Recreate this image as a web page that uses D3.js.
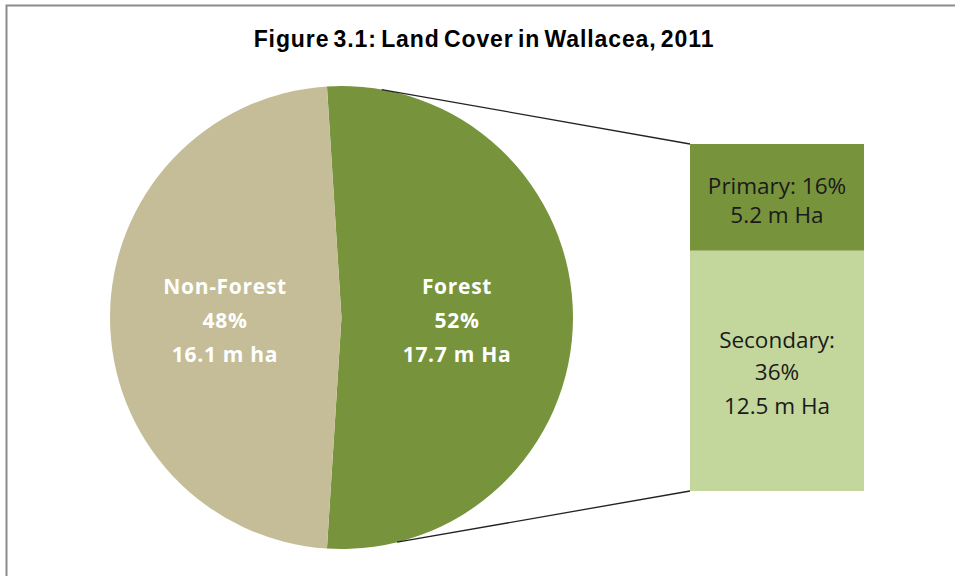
<!DOCTYPE html>
<html><head><meta charset="utf-8">
<script src="https://cdn.jsdelivr.net/npm/d3@7"></script>
<style>html,body{margin:0;padding:0;background:#fff;}svg{display:block;}</style>
</head><body>
<svg id="chart" width="955" height="576"></svg>
<script>
const title = "Figure 3.1: Land Cover in Wallacea, 2011";
const pieCategories = ["Forest", "Non-Forest"];
const piePercents = [52, 48];
const pieAreas = ["17.7 m Ha", "16.1 m ha"];
const barCategories = ["Primary", "Secondary"];
const barPercents = [16, 36];
const barAreas = ["5.2 m Ha", "12.5 m Ha"];

const pieColors = {"Forest": "#77933C", "Non-Forest": "#C4BD97"};
const barColors = {"Primary": "#77933C", "Secondary": "#C3D69B"};

const svg = d3.select("#chart");
// chart border
svg.append("rect").attr("x", 6.5).attr("y", 5.5).attr("width", 1000).attr("height", 1000)
  .attr("fill", "#fff").attr("stroke", "#8c8c8c").attr("stroke-width", 2);

svg.append("text").attr("x", 484).attr("y", 47).attr("text-anchor", "middle")
  .attr("font-family", "Liberation Sans, Arial, sans-serif").attr("font-weight", "bold")
  .attr("font-size", 23).attr("letter-spacing", 0.9).attr("word-spacing", -3).attr("fill", "#000").text(title);

const cx = 341.5, cy = 317.5, R = 231.5;
const forestFrac = piePercents[0] / d3.sum(piePercents);
const start = -(forestFrac * 2 * Math.PI - Math.PI) / 2;
const pie = d3.pie().sort(null).value(d => d.v).startAngle(start).endAngle(start + 2 * Math.PI);
const pieData = pie(pieCategories.map((c, i) => ({c, v: piePercents[i], a: pieAreas[i]})));
const arc = d3.arc().innerRadius(0).outerRadius(R);
const g = svg.append("g").attr("transform", `translate(${cx},${cy})`);
g.selectAll("path").data(pieData).join("path").attr("d", arc).attr("fill", d => pieColors[d.data.c]);

// pie labels
const labelPos = {"Forest": [457 - cx, 0], "Non-Forest": [225 - cx, 0]};
pieData.forEach(d => {
  const [lx] = labelPos[d.data.c];
  const lines = [d.data.c, d.data.v + "%", d.data.a];
  const t = g.append("text").attr("text-anchor", "middle")
    .attr("font-family", "'Open Sans', Lato, sans-serif").attr("font-weight", "bold")
    .attr("font-size", 21).attr("letter-spacing", 0.7).attr("fill", "#fff");
  lines.forEach((l, i) => t.append("tspan").attr("x", lx).attr("y", -24 + i * 34).text(l));
});

// bar
const barX = 690, barW = 174;
const y = d3.scaleLinear().domain([0, d3.sum(barPercents)]).range([144, 491]);
let acc = 0;
const barData = barCategories.map((c, i) => { const d = {c, v: barPercents[i], a: barAreas[i], y0: acc}; acc += barPercents[i]; d.y1 = acc; return d; });
svg.selectAll("rect.bar").data(barData).join("rect").attr("class", "bar")
  .attr("x", barX).attr("width", barW).attr("y", d => y(d.y0)).attr("height", d => y(d.y1) - y(d.y0))
  .attr("fill", d => barColors[d.c]);

// bar labels
const barLines = {"Primary": [[barCategories[0] + ": " + barPercents[0] + "%", 194], [barAreas[0], 223]],
  "Secondary": [[barCategories[1] + ":", 348], [barPercents[1] + "%", 380], [barAreas[1], 414]]};
barData.forEach(d => {
  barLines[d.c].forEach(([txt, ty]) => {
    svg.append("text").attr("x", barX + barW / 2).attr("y", ty).attr("text-anchor", "middle")
      .attr("font-family", "'Open Sans', Lato, sans-serif").attr("font-size", 22.5).attr("fill", "#1a1a1a").text(txt);
  });
});

// connector lines
const topAng = 10 * Math.PI / 180, botAng = 166.1 * Math.PI / 180;
const pt = a => [cx + R * Math.sin(a), cy - R * Math.cos(a)];
const [tx, ty] = pt(topAng), [bx, by] = pt(botAng);
svg.append("line").attr("x1", tx).attr("y1", ty).attr("x2", barX).attr("y2", y(0))
  .attr("stroke", "#222").attr("stroke-width", 1.3);
svg.append("line").attr("x1", bx).attr("y1", by).attr("x2", barX).attr("y2", y(d3.sum(barPercents)))
  .attr("stroke", "#222").attr("stroke-width", 1.3);
</script>
</body></html>
